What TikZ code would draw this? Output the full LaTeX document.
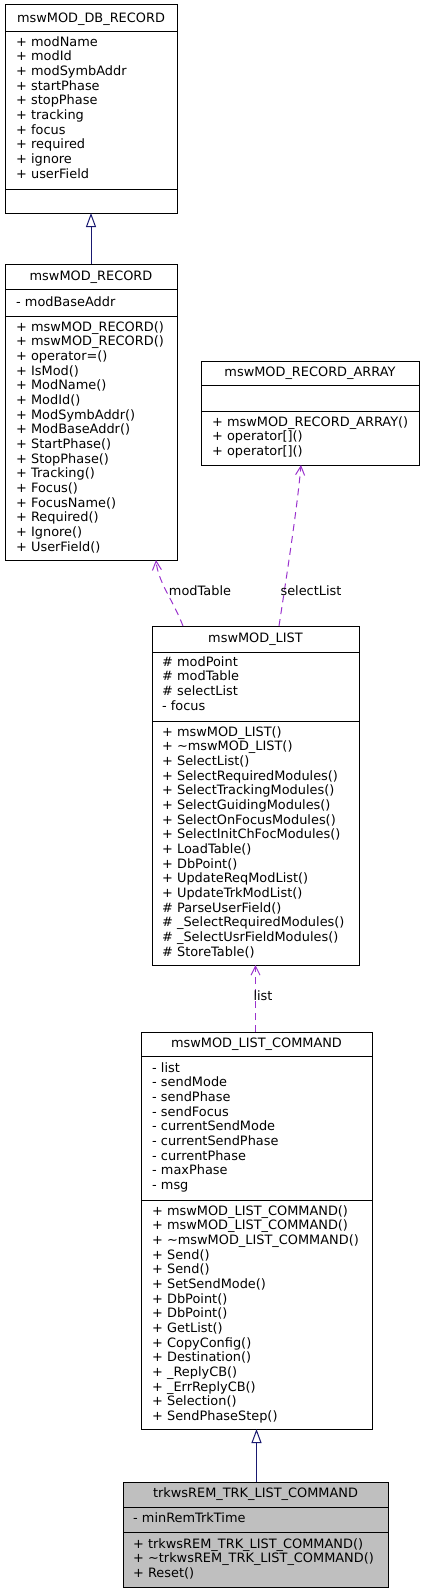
\documentclass[tikz,border=0pt]{standalone}
\usepackage{fontspec}
\setmainfont{DejaVu Sans}
\usetikzlibrary{arrows.meta}
\definecolor{inhblue}{HTML}{191970}
\definecolor{assocpurple}{HTML}{9A32CD}
\definecolor{boxgray}{HTML}{BFBFBF}
\begin{document}
\begin{tikzpicture}[x=1pt,y=-1pt,
  classbox/.style={draw=black, line width=1pt, inner sep=0pt, outer sep=0pt, anchor=north west},
  member/.style={font=\fontsize{12.9}{14}\selectfont, anchor=west, inner sep=0pt, text height=9pt, text depth=2.5pt},
  titletext/.style={member, anchor=center},
  sepline/.style={draw=black, line width=1pt},
  inh/.style={draw=inhblue, line width=1pt, -{Triangle[open, fill=white, length=14pt, width=10pt]}},
  assoc/.style={draw=assocpurple, line width=1pt, dash pattern=on 7pt off 5pt, -{Straight Barb[length=9pt, width=9pt]}},
  edgelabel/.style={member, anchor=center}]
\useasboundingbox (0,0) rectangle (424,1592);

% ---- mswMOD_DB_RECORD
\node[classbox, minimum width=172pt, minimum height=208pt] (dbrec) at (5,5) {};
\draw[sepline] (5,32) -- (177,32);
\draw[sepline] (5,189) -- (177,189);
\node[titletext] (dbrec-t) at (91,19) {mswMOD\_DB\_RECORD};
\foreach \t [count=\i from 0] in {+ modName, + modId, + modSymbAddr, + startPhase, + stopPhase, + tracking, + focus, + required, + ignore, + userField}
  \node[member, name=dbrec-a\i] at ({16},{43+\i*14.67}) {\t};

% ---- mswMOD_RECORD
\node[classbox, minimum width=172pt, minimum height=296pt] (modrec) at (5,264) {};
\draw[sepline] (5,289) -- (177,289);
\draw[sepline] (5,316) -- (177,316);
\node[titletext] (modrec-t) at (91,277) {mswMOD\_RECORD};
\node[member] (modrec-a0) at (16,303) {- modBaseAddr};
\foreach \t [count=\i from 0] in {+ mswMOD\_RECORD(), + mswMOD\_RECORD(), + operator=(), + IsMod(), + ModName(), + ModId(), + ModSymbAddr(), + ModBaseAddr(), + StartPhase(), + StopPhase(), + Tracking(), + Focus(), + FocusName(), + Required(), + Ignore(), + UserField()}
  \node[member, name=modrec-m\i] at ({16},{328+\i*14.67}) {\t};

% ---- mswMOD_RECORD_ARRAY
\node[classbox, minimum width=218pt, minimum height=104pt] (arr) at (201,361) {};
\draw[sepline] (201,385) -- (419,385);
\draw[sepline] (201,411) -- (419,411);
\node[titletext] (arr-t) at (310,373) {mswMOD\_RECORD\_ARRAY};
\foreach \t [count=\i from 0] in {{+ mswMOD\_RECORD\_ARRAY()}, {+ operator[]()}, {+ operator[]()}}
  \node[member, name=arr-m\i] at ({212},{423+\i*14.67}) {\t};

% ---- mswMOD_LIST
\node[classbox, minimum width=207pt, minimum height=339pt] (list) at (152,626) {};
\draw[sepline] (152,652) -- (359,652);
\draw[sepline] (152,721) -- (359,721);
\node[titletext] (list-t) at (255.5,639) {mswMOD\_LIST};
\foreach \t [count=\i from 0] in {\# modPoint, \# modTable, \# selectList, - focus}
  \node[member, name=list-a\i] at ({162},{663+\i*14.67}) {\t};
\foreach \t [count=\i from 0] in {+ mswMOD\_LIST(), + \textasciitilde mswMOD\_LIST(), + SelectList(), + SelectRequiredModules(), + SelectTrackingModules(), + SelectGuidingModules(), + SelectOnFocusModules(), + SelectInitChFocModules(), + LoadTable(), + DbPoint(), + UpdateReqModList(), + UpdateTrkModList(), \# ParseUserField(), \# \_SelectRequiredModules(), \# \_SelectUsrFieldModules(), \# StoreTable()}
  \node[member, name=list-m\i] at ({162},{733+\i*14.67}) {\t};

% ---- mswMOD_LIST_COMMAND
\node[classbox, minimum width=231pt, minimum height=397pt] (listcmd) at (141,1032) {};
\draw[sepline] (141,1056) -- (372,1056);
\draw[sepline] (141,1200) -- (372,1200);
\node[titletext] (listcmd-t) at (256.5,1044) {mswMOD\_LIST\_COMMAND};
\foreach \t [count=\i from 0] in {- list, - sendMode, - sendPhase, - sendFocus, - currentSendMode, - currentSendPhase, - currentPhase, - maxPhase, - msg}
  \node[member, name=listcmd-a\i] at ({152},{1069+\i*14.67}) {\t};
\foreach \t [count=\i from 0] in {+ mswMOD\_LIST\_COMMAND(), + mswMOD\_LIST\_COMMAND(), + \textasciitilde mswMOD\_LIST\_COMMAND(), + Send(), + Send(), + SetSendMode(), + DbPoint(), + DbPoint(), + GetList(), + CopyConfig(), + Destination(), + \_ReplyCB(), + \_ErrReplyCB(), + Selection(), + SendPhaseStep()}
  \node[member, name=listcmd-m\i] at ({152},{1212+\i*14.67}) {\t};

% ---- trkwsREM_TRK_LIST_COMMAND
\node[classbox, fill=boxgray, minimum width=265pt, minimum height=105pt] (trk) at (123,1482) {};
\draw[sepline] (123,1507) -- (388,1507);
\draw[sepline] (123,1532) -- (388,1532);
\node[titletext] (trk-t) at (255.5,1494) {trkwsREM\_TRK\_LIST\_COMMAND};
\node[member] (trk-a0) at (133,1519) {- minRemTrkTime};
\foreach \t [count=\i from 0] in {+ trkwsREM\_TRK\_LIST\_COMMAND(), + \textasciitilde trkwsREM\_TRK\_LIST\_COMMAND(), + Reset()}
  \node[member, name=trk-m\i] at ({133},{1545+\i*14.67}) {\t};

% ---- connectors
\draw[inh] (modrec.north) -- (dbrec.south);
\draw[inh] (trk.north -| listcmd.south) -- (listcmd.south);
\draw[assoc] ([xshift=-72.5pt]list.north) .. controls (173,600) and (158,582) .. ([xshift=-21pt]modrec.south east);
\draw[assoc] ([xshift=23.5pt]list.north) .. controls (286,580) and (297,510) .. ([xshift=-9pt]arr.south);
\draw[assoc] (listcmd.north -| list.south) -- (list.south);

% ---- connector labels
\node[edgelabel] (lbl-modtable) at (200,592) {modTable};
\node[edgelabel] (lbl-selectlist) at (311,592) {selectList};
\node[edgelabel] (lbl-list) at (263,997) {list};
\end{tikzpicture}
\end{document}
